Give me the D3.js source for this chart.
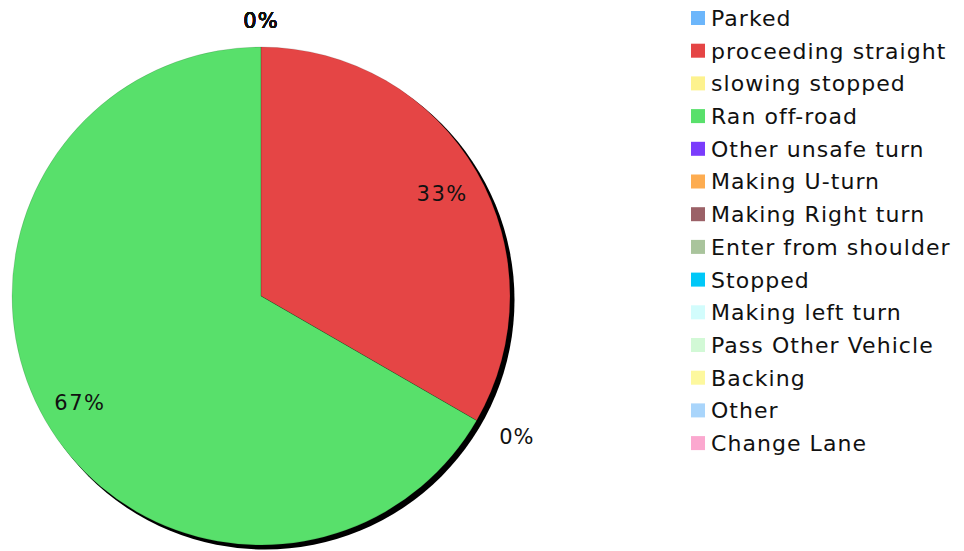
<!DOCTYPE html>
<html>
<head>
<meta charset="utf-8">
<script src="https://cdn.jsdelivr.net/npm/d3@7"></script>
<style>
  html, body { margin: 0; padding: 0; background: #fff; }
  svg { display: block; font-family: "DejaVu Sans", Verdana, sans-serif; }
</style>
</head>
<body>
<svg id="chart" width="964" height="551"></svg>
<script>
const categories = ["Parked", "proceeding straight", "slowing stopped", "Ran off-road",
  "Other unsafe turn", "Making U-turn", "Making Right turn", "Enter from shoulder",
  "Stopped", "Making left turn", "Pass Other Vehicle", "Backing", "Other", "Change Lane"];
const values = [0, 1, 0, 2, 0, 0, 0, 0, 0, 0, 0, 0, 0, 0];
const colors = ["#6cb6fb", "#e54545", "#fdf28e", "#58e06b", "#7a3cfc", "#fdac50",
  "#9b6167", "#a9c49c", "#00c8f8", "#d2fcfc", "#d2f9d6", "#fdf89e", "#a9d5fb", "#fba8cf"];

const svg = d3.select("#chart");
const cx = 261, cy = 296, r = 249;

const total = d3.sum(values);
const pie = d3.pie().value(d => d).sort(null);
const arcs = pie(values);
const arc = d3.arc().innerRadius(0).outerRadius(r);
const color = d3.scaleOrdinal().domain(categories).range(colors);

const defs = svg.append("defs");
const f = defs.append("filter").attr("id", "shadow").attr("x", "-10%").attr("y", "-10%").attr("width", "120%").attr("height", "120%");
f.append("feGaussianBlur").attr("stdDeviation", 0.6);

const g = svg.append("g").attr("transform", `translate(${cx},${cy})`);

// shadow
g.append("circle").attr("cx", 4).attr("cy", 4).attr("r", r + 0.5).attr("fill", "#000").attr("filter", "url(#shadow)");

g.selectAll("path.slice").data(arcs).enter().append("path")
  .attr("class", "slice")
  .attr("d", arc)
  .attr("fill", (d, i) => color(categories[i]))
  .attr("stroke", "none");

g.selectAll("path.sep").data(arcs.filter(d => d.value > 0)).enter().append("path")
  .attr("d", arc).attr("fill", "none").attr("stroke", "rgba(0,0,0,0.12)").attr("stroke-width", 1);

const fmt = v => Math.round(v / total * 100) + "%";
const inner = d3.arc().innerRadius(r * 0.84).outerRadius(r * 0.84);

arcs.forEach((d, i) => {
  if (d.value > 0) {
    const [x, y] = inner.centroid(d);
    g.append("text").attr("x", x).attr("y", y + 2).attr("dy", "0.35em")
      .attr("text-anchor", "middle").attr("font-size", 21).attr("letter-spacing", 1.5).attr("fill", "#111")
      .text(fmt(d.value));
  } else {
    const a = d.startAngle;
    const rr = r + 26;
    const x = Math.sin(a) * rr, y = -Math.cos(a) * rr;
    const side = Math.abs(Math.sin(a)) < 0.2 ? "middle" : (Math.sin(a) > 0 ? "start" : "end");
    g.append("text").attr("x", x).attr("y", side === "middle" ? y : y + 3).attr("dy", "0.35em")
      .attr("text-anchor", side).attr("font-size", 21).attr("letter-spacing", 1).attr("fill", "#111")
      .text(fmt(d.value));
  }
});

// legend
const legend = svg.append("g").attr("transform", "translate(691,18)");
const rowH = 32.7;
const items = legend.selectAll("g").data(categories).enter().append("g")
  .attr("transform", (d, i) => `translate(0,${i * rowH})`);
items.append("rect").attr("x", 0).attr("y", -7).attr("width", 14).attr("height", 14)
  .attr("fill", d => color(d));
items.append("text").attr("x", 20).attr("y", 0).attr("dy", "0.36em")
  .attr("font-size", 22).attr("letter-spacing", 1.05).attr("fill", "#111").text(d => d);
</script>
</body>
</html>
